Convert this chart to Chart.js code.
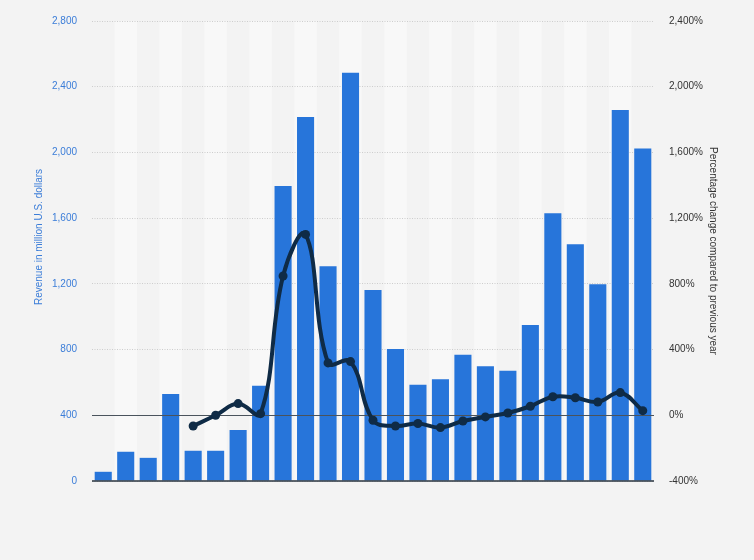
<!DOCTYPE html>
<html>
<head>
<meta charset="utf-8">
<script src="https://cdn.jsdelivr.net/npm/chart.js@4/dist/chart.umd.min.js"></script>
<style>
html,body{margin:0;padding:0;background:#f3f3f3;}
#wrap{width:754px;height:560px;position:relative;}
</style>
</head>
<body>
<div id="wrap"><canvas id="c" width="754" height="560"></canvas></div>
<script>
const categories = ["1","2","3","4","5","6","7","8","9","10","11","12","13","14","15","16","17","18","19","20","21","22","23","24","25"];
const revenue = [56, 178, 141, 529, 184, 184, 311, 580, 1795, 2216, 1307, 2485, 1162, 804, 586, 620, 768, 699, 671, 950, 1630, 1441, 1198, 2259, 2024];
const percentChange = [null, null, null, null, -65, 0, 71, 10, 848, 1101, 319, 327, -30, -65, -50, -75, -35, -10, 14, 55, 113, 107, 81, 138, 28];
const revenueTicks = [0, 400, 800, 1200, 1600, 2000, 2400, 2800];
const percentTicks = [-400, 0, 400, 800, 1200, 1600, 2000, 2400];
const leftTitle = 'Revenue in million U.S. dollars';
const rightTitle = 'Percentage change compared to previous year';

const FONT = "'Liberation Sans', Arial, sans-serif";

const decor = {
  id: 'decor',
  beforeDraw(chart) {
    const {ctx, chartArea: a, scales} = chart;
    ctx.save();
    ctx.fillStyle = '#f3f3f3';
    ctx.fillRect(0, 0, chart.width, chart.height);
    const x = scales.x;
    const w = (a.right - a.left) / categories.length;
    ctx.fillStyle = '#f8f8f8';
    categories.forEach((c, i) => {
      if (i % 2 === 1) {
        const cx = x.getPixelForValue(i);
        ctx.fillRect(cx - w / 2, a.top, w, a.bottom - a.top);
      }
    });
    ctx.restore();
  },
  afterDatasetDraw(chart, args) {
    if (args.index !== 1) return;
    const {ctx, chartArea: a, scales} = chart;
    ctx.save();
    const y0 = Math.round(scales.y1.getPixelForValue(0)) + 0.5;
    ctx.strokeStyle = '#4a535c';
    ctx.lineWidth = 1;
    ctx.beginPath();
    ctx.moveTo(a.left, y0);
    ctx.lineTo(a.right, y0);
    ctx.stroke();
    const yb = scales.y.getPixelForValue(0);
    ctx.strokeStyle = '#2b3640';
    ctx.lineWidth = 1.5;
    ctx.beginPath();
    ctx.moveTo(a.left, yb);
    ctx.lineTo(a.right, yb);
    ctx.stroke();
    ctx.restore();
  },
  afterDraw(chart) {
    const {ctx} = chart;
    ctx.save();
    ctx.translate(39, 237);
    ctx.rotate(-Math.PI / 2);
    ctx.font = '10px ' + FONT;
    ctx.fillStyle = '#3b7dd8';
    ctx.textAlign = 'center';
    ctx.textBaseline = 'middle';
    ctx.fillText(leftTitle, 0, 0);
    ctx.restore();
  }
};

new Chart(document.getElementById('c'), {
  data: {
    labels: categories,
    datasets: [
      {
        type: 'line',
        label: rightTitle,
        data: percentChange,
        yAxisID: 'y1',
        borderColor: '#0f2b46',
        backgroundColor: '#0f2b46',
        borderWidth: 4,
        pointRadius: 4.5,
        pointBorderWidth: 0,
        tension: 0.4,
        spanGaps: false,
        order: 0
      },
      {
        type: 'bar',
        label: leftTitle,
        data: revenue,
        yAxisID: 'y',
        backgroundColor: '#2775da',
        borderWidth: 0,
        barPercentage: 0.76,
        categoryPercentage: 1,
        order: 1
      }
    ]
  },
  options: {
    responsive: false,
    animation: false,
    devicePixelRatio: 1,
    layout: {padding: {top: 19, bottom: 79, left: 0, right: 0}},
    plugins: {legend: {display: false}, tooltip: {enabled: false}},
    scales: {
      x: {
        display: false,
        offset: true,
        grid: {display: false}
      },
      y: {
        position: 'left',
        min: 0, max: 2800,
        afterFit(s) { s.width = 92; },
        afterBuildTicks(s) { s.ticks = revenueTicks.map(v => ({value: v})); },
        ticks: {
          padding: 15,
          color: '#3b7dd8',
          font: {family: FONT, size: 10},
          callback: v => v.toLocaleString('en-US')
        },
        grid: {
          color: '#cdcdcd',
          drawTicks: false
        },
        border: {display: false, dash: [1, 1.5]},
        title: {display: false}
      },
      y1: {
        position: 'right',
        min: -400, max: 2400,
        afterFit(s) { s.width = 100; },
        afterBuildTicks(s) { s.ticks = percentTicks.map(v => ({value: v})); },
        ticks: {
          padding: 15,
          color: '#333333',
          font: {family: FONT, size: 10},
          callback: v => v.toLocaleString('en-US') + '%'
        },
        grid: {display: false, drawTicks: false},
        border: {display: false},
        title: {
          display: true,
          text: rightTitle,
          color: '#333333',
          font: {family: FONT, size: 10},
          padding: {top: 35, bottom: 0}
        }
      }
    }
  },
  plugins: [decor]
});
</script>
</body>
</html>
